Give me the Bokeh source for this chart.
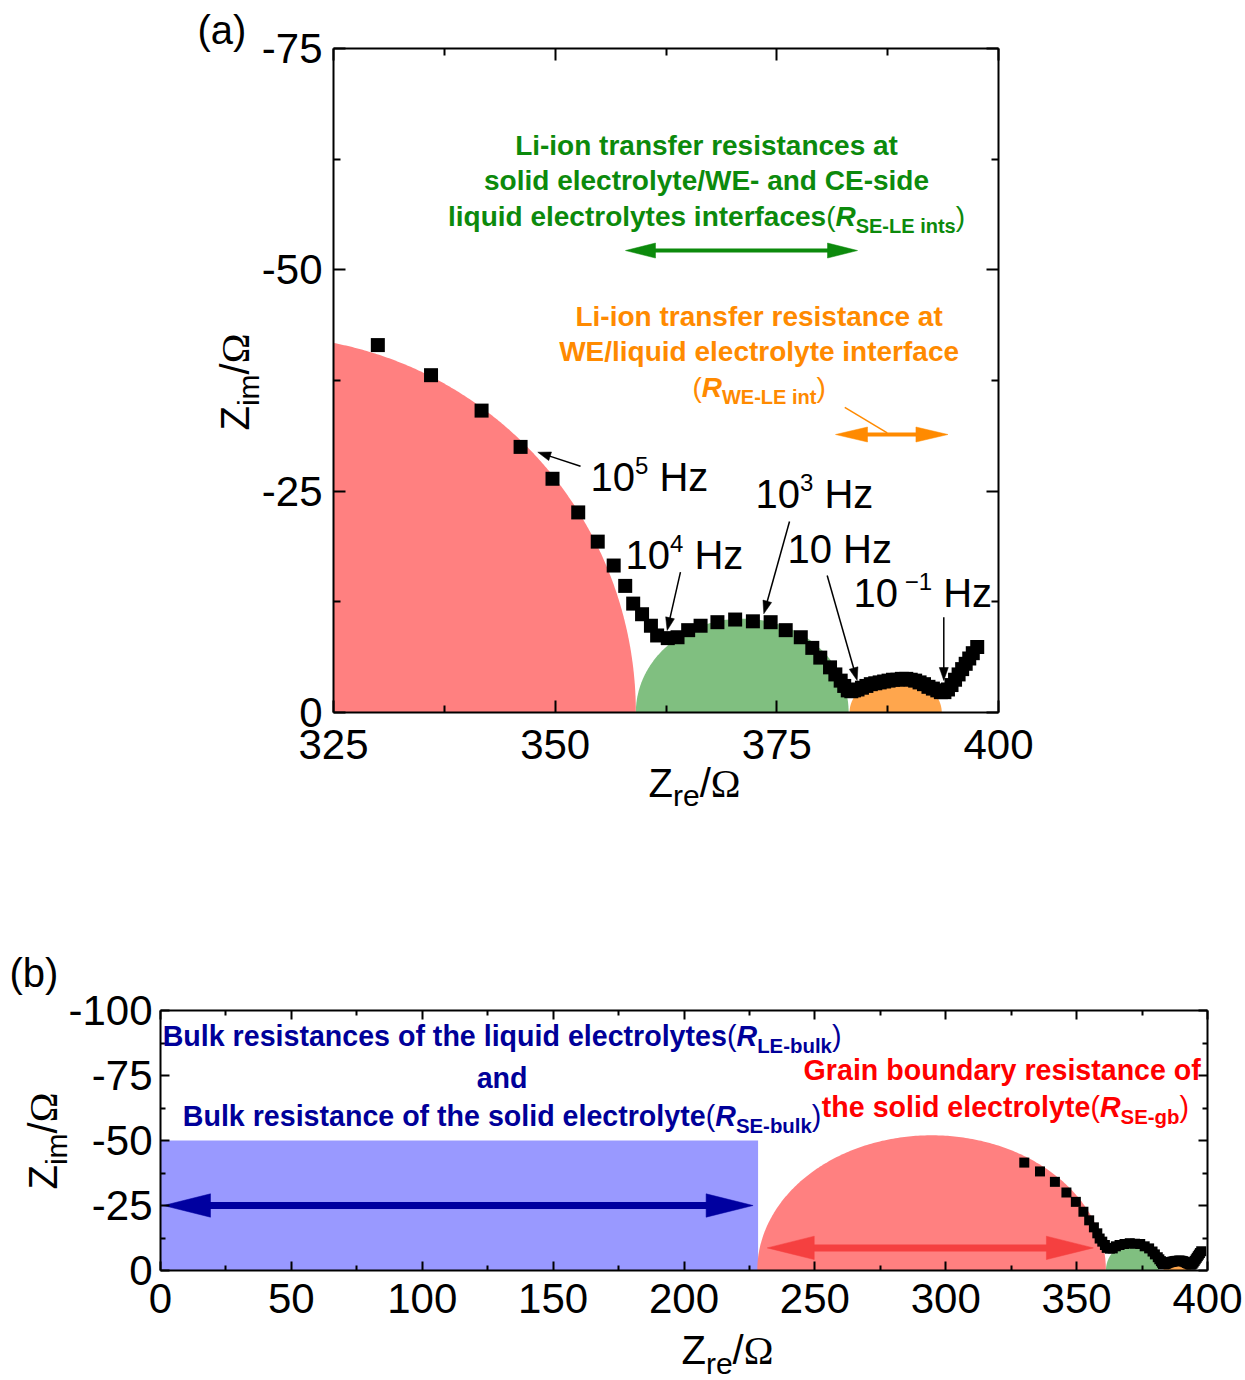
import numpy as np
from bokeh.plotting import figure
from bokeh.models import Range1d, FixedTicker, LinearAxis, Label, CustomJSTickFormatter
from bokeh.layouts import column
from bokeh.embed import file_html
from bokeh.resources import INLINE

# ---------------- measured impedance spectrum (Nyquist) ----------------
z_re = [330.0, 336.0, 341.7, 346.1, 349.7, 352.6, 354.8, 356.6, 357.9, 358.8,
        359.8, 360.8, 361.5, 362.7, 363.8, 365.0, 366.4, 368.3, 370.3, 372.3,
        374.3, 376.0, 377.7, 379.0, 379.9, 381.0, 381.6, 382.2, 382.6, 383.0,
        383.4, 383.7, 384.1, 384.6, 385.1, 385.6, 386.1, 386.6, 387.1, 387.6,
        388.1, 388.6, 389.1, 389.6, 390.1, 390.6, 391.1, 391.6, 392.1, 392.6,
        393.1, 393.5, 393.9, 394.3, 394.7, 395.1, 395.5, 395.9, 396.3, 396.7,
        397.1, 397.6]
z_im = [-41.5, -38.1, -34.1, -30.0, -26.4, -22.6, -19.3, -16.6, -14.3, -12.3,
        -11.1, -9.8, -8.7, -8.4, -8.5, -9.3, -9.8, -10.2, -10.5, -10.3,
        -10.2, -9.3, -8.5, -7.3, -6.2, -5.1, -4.3, -3.6, -3.0, -2.5,
        -2.4, -2.5, -2.6, -2.8, -3.0, -3.2, -3.3, -3.4, -3.5, -3.6,
        -3.7, -3.7, -3.8, -3.8, -3.7, -3.6, -3.4, -3.2, -2.9, -2.7,
        -2.5, -2.3, -2.3, -2.6, -3.1, -3.7, -4.3, -4.9, -5.5, -6.1,
        -6.7, -7.4]

# ---------------- panel (a) axes ----------------
a_x_box = (325, 400)
a_y_box = (0, -75)
a_x_ticks = [325, 350, 375, 400]
a_x_labels = ["325", "350", "375", "400"]
a_x_minor = [337.5, 362.5, 387.5]
a_y_ticks = [0, -25, -50, -75]
a_y_labels = ["0", "-25", "-50", "-75"]
a_y_minor = [-12.5, -37.5, -62.5]

# ---------------- panel (b) axes ----------------
b_x_box = (0, 400)
b_y_box = (0, -100)
b_x_ticks = [0, 50, 100, 150, 200, 250, 300, 350, 400]
b_x_labels = ["0", "50", "100", "150", "200", "250", "300", "350", "400"]
b_x_minor = [25, 75, 125, 175, 225, 275, 325, 375]
b_y_ticks = [0, -25, -50, -75, -100]
b_y_labels = ["0", "-25", "-50", "-75", "-100"]
b_y_minor = [-12.5, -37.5, -62.5, -87.5]

# equivalent-circuit arcs: left intercept, right intercept, height (ohm)
arc_colors = ["#ff8080", "#80bf80", "#ffa64d"]
a_arc_left = [275.1, 359.1, 383.2]
a_arc_right = [359.1, 383.1, 393.6]
a_arc_height = [42.5, 10.6, 4.0]
b_arc_left = [228.0, 361.2, 383.2]
b_arc_right = [361.2, 381.5, 393.6]
b_arc_height = [52.0, 10.5, 4.0]

# bulk (liquid + solid) resistance block in (b)
b_bulk_R = 228.3
b_bulk_height = 50.0

SANS = "Liberation Sans"
SERIF = "Liberation Serif"
GREEN = "#0c8a0c"
ORANGE = "#ff8a00"
NAVY = "#000099"
RED = "#ff0000"

# Arial / Helvetica advance widths (1/1000 em) for laying out mixed-style text
_up = "ABCDEFGHIJKLMNOPQRSTUVWXYZ"
_lo = "abcdefghijklmnopqrstuvwxyz"
_base = dict(zip(" ()-/.0123456789", [278, 333, 333, 333, 278, 278] + [556] * 10))
W_REG = dict(_base)
W_REG.update(zip(_up, [667, 667, 722, 722, 667, 611, 778, 722, 278, 500, 667, 556, 833,
                       722, 778, 667, 778, 722, 667, 611, 722, 667, 944, 667, 667, 611]))
W_REG.update(zip(_lo, [556, 556, 500, 556, 556, 278, 556, 556, 222, 222, 500, 222, 833,
                       556, 556, 556, 556, 333, 500, 278, 556, 500, 722, 500, 500, 500]))
W_REG["\u2212"] = 584
W_BOLD = dict(_base)
W_BOLD.update(zip(_up, [722, 722, 722, 722, 667, 611, 778, 722, 278, 556, 722, 611, 833,
                        722, 778, 667, 778, 722, 667, 611, 722, 667, 944, 667, 667, 611]))
W_BOLD.update(zip(_lo, [556, 611, 556, 611, 556, 333, 611, 611, 278, 278, 556, 278, 889,
                        611, 611, 611, 611, 389, 556, 333, 611, 556, 778, 556, 556, 500]))

# vertical placement of "alphabetic" text in the svg output, fraction of font size
BASE_FIX = 0.36


def seg_width(txt, size, style, shift, fam):
    if fam == SERIF:
        table = {"\u03a9": 768}
    else:
        table = W_BOLD if "bold" in style else W_REG
    return sum(table.get(c, 556) for c in txt) * size / 1000.0


def rich_text(p, x, y, parts, color, align="center", angle=0.0):
    """Mixed-style line of text whose baseline starts at data point (x, y)."""
    widths = [seg_width(*pt) for pt in parts]
    total = sum(widths)
    pos = {"left": 0.0, "center": -total / 2.0, "right": -total}[align]
    for (txt, size, style, shift, fam), w in zip(parts, widths):
        lead = len(txt) - len(txt.lstrip(" "))
        body = txt.lstrip(" ")
        adv = seg_width(txt[:lead], size, style, shift, fam)
        if body:
            if angle:
                xo, yo = -shift - BASE_FIX * size, pos + adv
            else:
                xo, yo = pos + adv, shift + BASE_FIX * size
            p.add_layout(Label(x=x, y=y, x_offset=xo, y_offset=yo, text=body,
                               text_font=fam, text_font_size=f"{size}px",
                               text_font_style=style, text_color=color,
                               text_align="left", text_baseline="alphabetic",
                               angle=angle))
        pos += w


def styled(size, sub):
    """Rich-text styles for a block of bold annotation text."""
    main = (size, "bold", 0, SANS)

    def tag(letter_sub):
        return [("(", size, "normal", 0, SANS), ("R", size, "bold italic", 0, SANS),
                (letter_sub, sub, "bold", -0.25 * size, SANS), (")", size, "normal", 0, SANS)]
    return main, tag


def make_panel(width, height, box_px, xb, yb, xt, xl, xm, yt, yl, ym,
               tick_major, tick_minor, standoff_x, standoff_y):
    """Figure whose axes box (xb x yb) sits at box_px = (left, right, top, bottom)."""
    L, R, T, B = box_px
    kx = (R - L) / (xb[1] - xb[0])
    ky = (B - T) / (yb[1] - yb[0])
    xr = (xb[0] - L / kx, xb[1] + (width - R) / kx)
    yr = (yb[0] - (height - B) / ky, yb[1] + T / ky)
    p = figure(width=width, height=height, output_backend="svg", toolbar_location=None,
               x_range=Range1d(*xr), y_range=Range1d(*yr),
               min_border_left=0, min_border_right=0, min_border_top=0, min_border_bottom=0)
    p.grid.visible = False
    p.background_fill_color = "white"
    p.border_fill_color = "white"
    p.outline_line_color = None
    bottom_ax = p.below[0]
    left_ax = p.left[0]
    blank = "return ''"
    top_ax = LinearAxis(formatter=CustomJSTickFormatter(code=blank))
    right_ax = LinearAxis(formatter=CustomJSTickFormatter(code=blank))
    p.add_layout(top_ax, "above")
    p.add_layout(right_ax, "right")
    xlo, xhi = min(xb), max(xb)
    ylo, yhi = min(yb), max(yb)
    bottom_ax.fixed_location = yb[0]
    top_ax.fixed_location = yb[1]
    left_ax.fixed_location = xb[0]
    right_ax.fixed_location = xb[1]
    for ax in [bottom_ax, top_ax]:
        ax.ticker = FixedTicker(ticks=xt, minor_ticks=xm)
        ax.bounds = (xlo, xhi)
    for ax in [left_ax, right_ax]:
        ax.ticker = FixedTicker(ticks=yt, minor_ticks=ym)
        ax.bounds = (ylo, yhi)
    bottom_ax.major_label_overrides = dict(zip(xt, xl))
    left_ax.major_label_overrides = dict(zip(yt, yl))
    for ax in [bottom_ax, left_ax, top_ax, right_ax]:
        ax.axis_line_width = 2
        ax.axis_line_color = "black"
        ax.major_tick_in = tick_major
        ax.major_tick_out = 0
        ax.minor_tick_in = tick_minor
        ax.minor_tick_out = 0
        ax.major_tick_line_width = 2
        ax.minor_tick_line_width = 2
        ax.major_label_text_font = SANS
        ax.major_label_text_color = "black"
        ax.major_label_text_font_size = "42px"
        ax.axis_label = None
    bottom_ax.major_label_standoff = standoff_x
    left_ax.major_label_standoff = standoff_y
    for ax in [top_ax, right_ax]:
        ax.major_label_text_font_size = "1px"
        ax.major_label_standoff = 0
    return p, (width, height, xr, yr)


def arrow(p, frame, x0, y0, x1, y1, color, shaft, head_len, head_half, both=False):
    """Arrow from (x0, y0) to (x1, y1); head sizes are in pixels."""
    fw, fh, xr, yr = frame
    kx = fw / (xr[1] - xr[0])
    ky = fh / (yr[1] - yr[0])
    P0 = np.array([(x0 - xr[0]) * kx, (y0 - yr[0]) * ky])
    P1 = np.array([(x1 - xr[0]) * kx, (y1 - yr[0]) * ky])
    u = (P1 - P0) / np.hypot(*(P1 - P0))
    n = np.array([-u[1], u[0]])

    def to_data(P):
        return xr[0] + P[0] / kx, yr[0] + P[1] / ky

    heads = [(P1, u)]
    if both:
        heads.append((P0, -u))
    s0 = P0 + u * head_len * 0.9 if both else P0
    s1 = P1 - u * head_len * 0.9
    a, b = to_data(s0), to_data(s1)
    p.line([a[0], b[0]], [a[1], b[1]], line_color=color, line_width=shaft)
    for tip, d in heads:
        base = tip - d * head_len
        pts = [tip, base + n * head_half, base - n * head_half]
        xs, ys = zip(*[to_data(q) for q in pts])
        p.patch(list(xs), list(ys), fill_color=color, line_color=color, line_width=0.5)


def half_arc(left, right, h, xmin, n=241):
    """Semi-ellipse on the real axis, cut at the left edge of the axes box."""
    xc, rx = (left + right) / 2.0, (right - left) / 2.0
    tmax = np.pi if left >= xmin else np.arccos((xmin - xc) / rx)
    t = np.linspace(0.0, tmax, n)
    xs = list(xc + rx * np.cos(t))
    ys = list(-h * np.sin(t))
    if tmax < np.pi:
        xs.append(xmin)
        ys.append(0.0)
    return xs, ys


# =============================== panel (a) ===============================
pa, frame_a = make_panel(1245, 900, (333, 998, 48, 712), a_x_box, a_y_box,
                         a_x_ticks, a_x_labels, a_x_minor, a_y_ticks, a_y_labels, a_y_minor,
                         12, 7, 17, 11)

for l, r, h, c in zip(a_arc_left, a_arc_right, a_arc_height, arc_colors):
    ex, ey = half_arc(l, r, h, a_x_box[0])
    pa.patch(ex, ey, fill_color=c, line_color=None)

# R_SE-LE ints and R_WE-LE int spans
arrow(pa, frame_a, 357.93, -52.18, 384.10, -52.18, GREEN, 4, 30, 7.5, both=True)
arrow(pa, frame_a, 381.62, -31.40, 394.30, -31.40, ORANGE, 4, 32, 7.5, both=True)
pa.line([382.66, 387.45], [-34.46, -31.59], line_color=ORANGE, line_width=1.5)

# frequency markers
freq_arrows = [((352.86, -27.82), (348.04, -29.40)),
               ((364.13, -15.85), (362.63, -9.26)),
               ((376.43, -21.57), (373.53, -11.15)),
               ((380.68, -15.47), (384.06, -3.61)),
               ((393.83, -10.76), (393.83, -3.61))]
for (xs0, ys0), (xs1, ys1) in freq_arrows:
    arrow(pa, frame_a, xs0, ys0, xs1, ys1, "black", 1.5, 13, 4.5)

pa.scatter(z_re, z_im, marker="square", size=14, fill_color="black", line_color=None)

# frequency labels: (left x, baseline y, exponent)
freq_labels = [(353.98, -24.96, "5"), (357.93, -16.15, "4"), (372.59, -23.04, "3"),
               (376.20, -16.83, None), (383.65, -11.86, "\u22121")]
for fx, fy, ex in freq_labels:
    parts = [("10", 40, "normal", 0, SANS)]
    if ex is not None:
        gap = " " if ex.startswith("\u2212") else ""
        parts.append((gap + ex, 24, "normal", 17, SANS))
    parts.append((" Hz", 40, "normal", 0, SANS))
    rich_text(pa, fx, fy, parts, "black", align="left")

A_MAIN, a_tag = styled(28, 20)
rich_text(pa, 367.07, -62.91, [("Li-ion transfer resistances at",) + A_MAIN], GREEN)
rich_text(pa, 367.07, -58.96, [("solid electrolyte/WE- and CE-side",) + A_MAIN], GREEN)
rich_text(pa, 367.07, -54.89,
          [("liquid electrolytes interfaces",) + A_MAIN] + a_tag("SE-LE ints"), GREEN)
rich_text(pa, 373.0, -43.60, [("Li-ion transfer resistance at",) + A_MAIN], ORANGE)
rich_text(pa, 373.0, -39.65, [("WE/liquid electrolyte interface",) + A_MAIN], ORANGE)
rich_text(pa, 373.0, -35.58, a_tag("WE-LE int"), ORANGE)

# axis titles and panel tag
zre = [("Z", 40, "normal", 0, SANS), ("re", 30, "normal", -9, SANS),
       ("/", 40, "normal", 0, SANS), ("\u03a9", 40, "normal", 0, SERIF)]
zim = [("Z", 40, "normal", 0, SANS), ("im", 30, "normal", -10, SANS),
       ("/", 40, "normal", 0, SANS), ("\u03a9", 40, "normal", 0, SERIF)]
rich_text(pa, 360.53, 9.60, zre, "black", align="left")
rich_text(pa, 315.53, -31.85, zim, "black", align="left", angle=np.pi / 2)
rich_text(pa, 309.66, -75.45, [("(a)", 40, "normal", 0, SANS)], "black", align="left")

# =============================== panel (b) ===============================
pb, frame_b = make_panel(1245, 480, (160, 1207, 110, 370), b_x_box, b_y_box,
                         b_x_ticks, b_x_labels, b_x_minor, b_y_ticks, b_y_labels, b_y_minor,
                         9, 5, 13, 8)

pb.quad(left=0, right=b_bulk_R, bottom=0, top=-b_bulk_height,
        fill_color="#9999ff", line_color=None)
for l, r, h, c in zip(b_arc_left, b_arc_right, b_arc_height, arc_colors):
    ex, ey = half_arc(l, r, h, b_x_box[0])
    pb.patch(ex, ey, fill_color=c, line_color=None)

arrow(pb, frame_b, 1.15, -25.0, 226.4, -25.0, "#0000a0", 7, 47, 11.7, both=True)
arrow(pb, frame_b, 231.8, -8.7, 356.4, -8.7, "#f54040", 7, 47, 11.7, both=True)

pb.scatter(z_re, z_im, marker="square", size=10, fill_color="black", line_color=None)

B_MAIN, b_tag = styled(28.6, 20.4)
rich_text(pb, 130.5, -86.2,
          [("Bulk resistances of the liquid electrolytes",) + B_MAIN] + b_tag("LE-bulk"), NAVY)
rich_text(pb, 130.5, -70.0, [("and",) + B_MAIN], NAVY)
rich_text(pb, 130.5, -55.6,
          [("Bulk resistance of the solid electrolyte",) + B_MAIN] + b_tag("SE-bulk"), NAVY)
rich_text(pb, 321.6, -73.1, [("Grain boundary resistance of",) + B_MAIN], RED)
rich_text(pb, 322.8, -58.8,
          [("the solid electrolyte",) + B_MAIN] + b_tag("SE-gb"), RED)

rich_text(pb, 199.05, 36.3, zre, "black", align="left")
rich_text(pb, -39.35, -31.15, zim, "black", align="left", angle=np.pi / 2)
rich_text(pb, -57.69, -108.85, [("(b)", 40, "normal", 0, SANS)], "black", align="left")

layout = column(pa, pb)
open("out.html", "w").write(file_html(layout, INLINE))
